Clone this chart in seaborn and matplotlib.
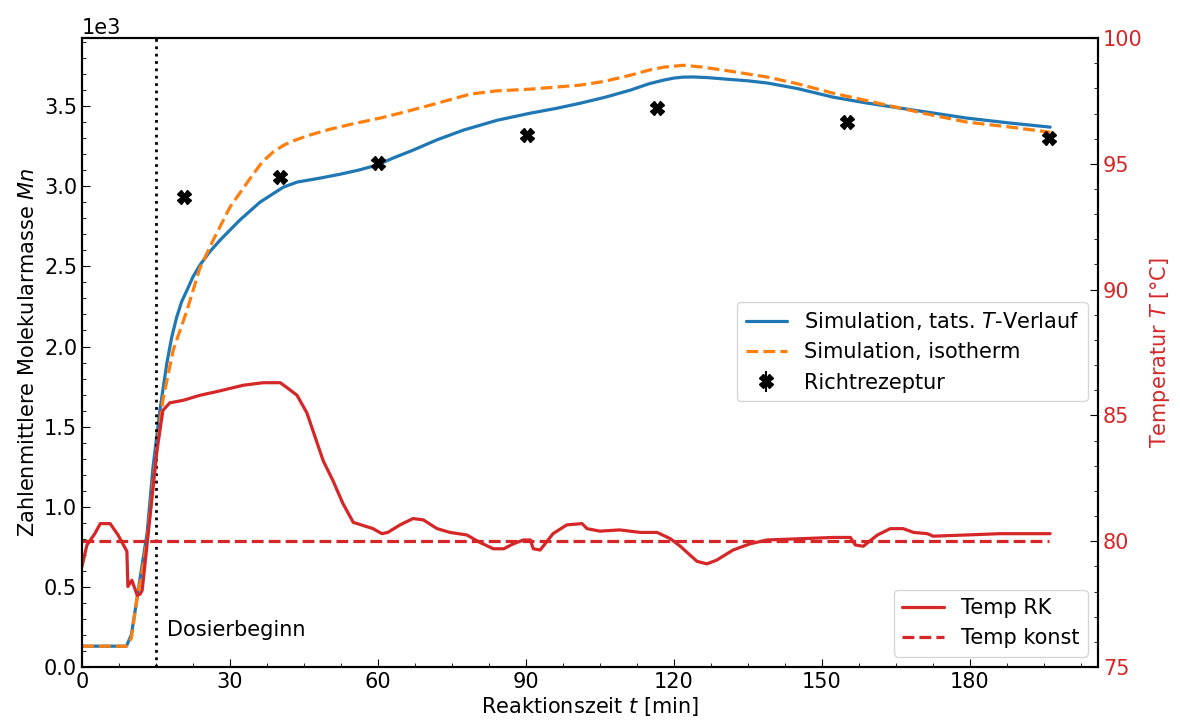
import numpy as np
import pandas as pd
import matplotlib
matplotlib.use("Agg")
import matplotlib.pyplot as plt
from matplotlib.ticker import MultipleLocator, ScalarFormatter
import seaborn as sns

# Simulated number-average molar mass, actual temperature profile
t_real = [0, 9, 10, 11.2, 12, 13.2, 14.4, 15.8, 17.2, 18.2, 19.2, 20.2, 21.3, 22.5,
          23.9, 26, 28, 32, 36.1, 40.8, 43.6, 48.3, 52.3, 56, 59.8, 63, 67.1, 72, 77.3,
          84.2, 90.9, 96, 101, 106, 111.2, 115, 117.9, 120, 121.9, 124, 126.8, 130, 135,
          139, 145, 152.3, 159, 166, 173, 179.5, 188, 196.3]
mn_real = [130, 130, 200, 437, 600, 836, 1248, 1603, 1896, 2060, 2183, 2280, 2352, 2435,
           2508, 2595, 2664, 2789, 2901, 2994, 3026, 3051, 3075, 3100, 3132, 3175, 3225,
           3290, 3350, 3412, 3456, 3485, 3518, 3555, 3600, 3640, 3662, 3675, 3681, 3682,
           3678, 3670, 3658, 3644, 3610, 3556, 3520, 3487, 3455, 3425, 3395, 3369]

# Simulated number-average molar mass, isothermal
t_iso = [0, 9, 10, 11.2, 12, 13.2, 14.4, 15.4, 16.4, 18.5, 21.3, 23.9, 26.6, 30, 34,
         36.5, 38.8, 41, 43, 46, 50.3, 55, 60.4, 65, 70.6, 78.7, 84, 90.9, 101, 106,
         111.2, 115, 117.9, 121.9, 125.4, 130, 139, 145, 152.3, 159, 166, 173, 179.5,
         188, 196.3]
mn_iso = [130, 130, 180, 437, 560, 792, 1148, 1420, 1666, 1978, 2227, 2489, 2664, 2870,
          3045, 3150, 3215, 3258, 3285, 3318, 3356, 3390, 3425, 3460, 3506, 3575, 3595,
          3606, 3631, 3655, 3693, 3725, 3743, 3755, 3745, 3725, 3681, 3640, 3581, 3535,
          3487, 3440, 3400, 3370, 3337]

# Reference recipe measurements
t_rk = [20.7, 40.2, 60.0, 90.3, 116.6, 155.2, 196.0]
mn_rk = [2930, 3056, 3144, 3319, 3487, 3400, 3300]

# Reactor temperature (Temp RK)
t_temp = [0, 1, 2.6, 3.7, 5.7, 7.3, 9.1, 9.3, 10.1, 11.2, 11.8, 12.2, 13.8, 15.2, 16.4,
          17.8, 20.5, 23.9, 27.4, 32.7, 36.7, 40.2, 41.6, 43.6, 45.6, 48.9, 50.9, 52.9,
          55, 59, 60.8, 62, 64.5, 67.1, 69.2, 72, 74.6, 76.3, 78, 80.7, 83.4, 85.5,
          87.5, 89.5, 90.9, 91.5, 92.9, 95.5, 98.3, 101.4, 102.4, 105, 109, 113.2,
          116.6, 119.3, 121.3, 124.7, 126.7, 128.7, 132, 135.5, 138.9, 145.6, 152.3,
          155.8, 156.8, 158.4, 161.3, 163.9, 166.5, 168.6, 171.4, 172.6, 179.5, 186.2,
          196.3]
temp_rk = [79.0, 79.85, 80.3, 80.7, 80.7, 80.25, 79.6, 78.2, 78.45, 77.85, 77.9, 78.05,
           81.0, 83.6, 85.2, 85.5, 85.6, 85.8, 85.95, 86.2, 86.3, 86.3, 86.1, 85.8,
           85.1, 83.2, 82.4, 81.5, 80.75, 80.5, 80.3, 80.35, 80.65, 80.9, 80.85, 80.5,
           80.35, 80.3, 80.25, 79.95, 79.7, 79.7, 79.9, 80.05, 80.05, 79.7, 79.65, 80.3,
           80.65, 80.7, 80.5, 80.4, 80.45, 80.35, 80.35, 80.1, 79.8, 79.2, 79.1, 79.25,
           79.65, 79.9, 80.05, 80.1, 80.15, 80.15, 79.85, 79.8, 80.25, 80.5, 80.5, 80.35,
           80.3, 80.2, 80.25, 80.3, 80.3]

# Constant temperature setpoint
t_const = [0, 196]
temp_const = [80, 80]

t_dosing = 15

sns.set_style("ticks")
plt.rcParams["font.family"] = ["DejaVu Sans"]
plt.rcParams.update({
    "font.size": 15,
    "text.color": "black",
    "axes.labelcolor": "black",
    "xtick.color": "black",
    "ytick.color": "black",
    "xtick.direction": "in",
    "ytick.direction": "in",
})

blue, orange, red = "#1f77b4", "#ff7f0e", "#d62728"
lw = 2.3

fig = plt.figure(figsize=(11.8, 7.27), dpi=100)
ax = fig.add_axes([0.0695, 0.0825, 0.861, 0.8652])

df_real = pd.DataFrame({"t": t_real, "Mn": mn_real})
df_iso = pd.DataFrame({"t": t_iso, "Mn": mn_iso})
sns.lineplot(data=df_real, x="t", y="Mn", ax=ax, color=blue, lw=lw,
             label="Simulation, tats. $T$-Verlauf")
sns.lineplot(data=df_iso, x="t", y="Mn", ax=ax, color=orange, lw=lw, linestyle="--",
             label="Simulation, isotherm")
ax.errorbar(t_rk, mn_rk, yerr=np.zeros(len(mn_rk)), fmt="X", color="black",
            markersize=10, label="Richtrezeptur")
ax.axvline(t_dosing, color="black", ls=":", lw=2)
ax.text(t_dosing + 2.2, 230, "Dosierbeginn", fontsize=15, va="center", ha="left")

ax.set_xlim(0, 206)
ax.set_ylim(0, 3925)
ax.xaxis.set_major_locator(MultipleLocator(30))
ax.xaxis.set_minor_locator(MultipleLocator(7.5))
ax.yaxis.set_major_locator(MultipleLocator(500))
ax.yaxis.set_minor_locator(MultipleLocator(100))
fmt = ScalarFormatter(useMathText=False)
fmt.set_powerlimits((3, 3))
ax.yaxis.set_major_formatter(fmt)
ax.set_xlabel("Reaktionszeit $t$ [min]", fontsize=15, labelpad=2)
ax.set_ylabel("Zahlenmittlere Molekularmasse $Mn$", fontsize=15)
ax.tick_params(which="major", length=6, labelsize=15)
ax.tick_params(which="minor", length=3)
ax.legend(loc="center right", bbox_to_anchor=(1.0, 0.502), fontsize=15)

ax2 = ax.twinx()
df_temp = pd.DataFrame({"t": t_temp, "T": temp_rk})
df_const = pd.DataFrame({"t": t_const, "T": temp_const})
sns.lineplot(data=df_temp, x="t", y="T", ax=ax2, color=red, lw=lw, label="Temp RK")
sns.lineplot(data=df_const, x="t", y="T", ax=ax2, color=red, lw=lw, linestyle="--",
             label="Temp konst")
ax2.set_ylim(75, 100)
ax2.yaxis.set_major_locator(MultipleLocator(5))
ax2.yaxis.set_minor_locator(MultipleLocator(1))
ax2.tick_params(axis="y", which="major", length=6, labelsize=15, labelcolor=red)
ax2.tick_params(axis="y", which="minor", length=3)
ax2.set_ylabel("Temperatur $T$ [°C]", color=red, fontsize=15)
ax2.set_xlabel("")
ax2.legend(loc="lower right", fontsize=15)

for a in (ax, ax2):
    for s in a.spines.values():
        s.set_linewidth(1.5)
        s.set_color("black")

fig.savefig("out.png", dpi=100)
